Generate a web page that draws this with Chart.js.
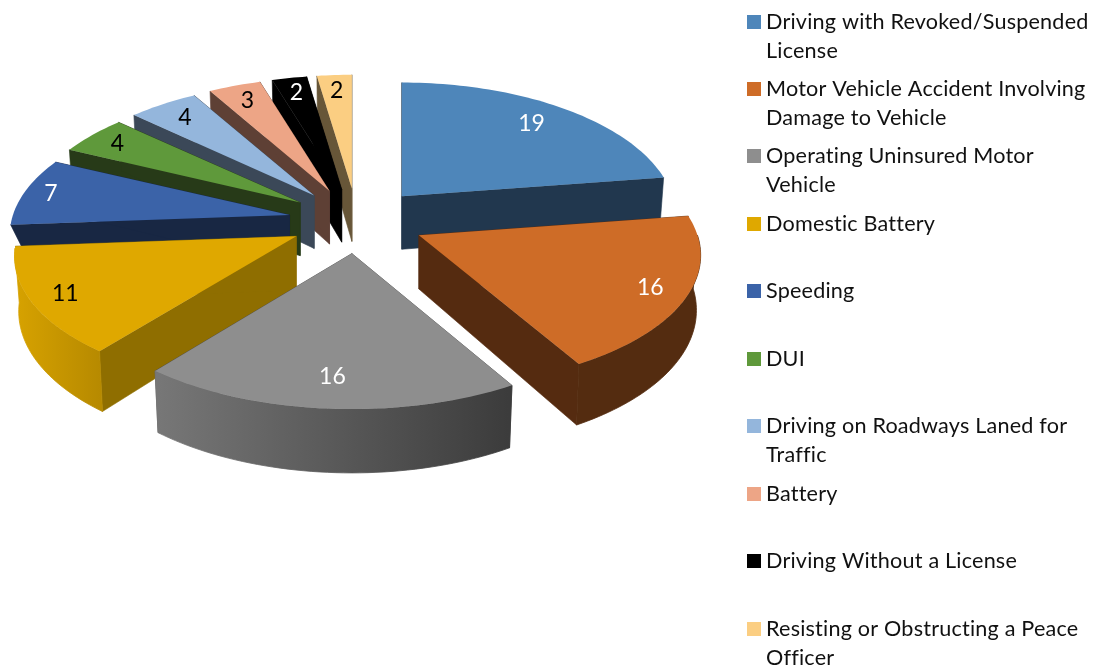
<!DOCTYPE html>
<html><head><meta charset="utf-8">
<style>html,body{margin:0;padding:0;background:#fff}canvas{display:block}</style>
<script src="https://cdn.jsdelivr.net/npm/chart.js@4/dist/chart.umd.min.js"></script>
</head><body>
<canvas id="c" width="1094" height="668" style="width:1094px;height:668px"></canvas>
<script>
const categories = ["Driving with Revoked/Suspended License","Motor Vehicle Accident Involving Damage to Vehicle","Operating Uninsured Motor Vehicle","Domestic Battery","Speeding","DUI","Driving on Roadways Laned for Traffic","Battery","Driving Without a License","Resisting or Obstructing a Peace Officer"];
const values = [19,16,16,11,7,4,4,3,2,2];
const topColors = ["#4E86BA","#CE6C27","#8E8E8E","#DFA800","#3B63A8","#5F993B","#94B6DC","#EDA586","#000000","#FBCE82"];
const wallColors = ["#21374E","#552B10","#4A4A4A","#8F6E00","#182743","#273A18","#3B4858","#5E4035","#000000","#675638"];
const labelColors = ["#fff","#fff","#fff","#000","#fff","#000","#000","#000","#fff","#000"];
const labelRadii = [.8,.87,.82,.88,.9,.87,.84,.85,.85,.85];

const FONT = 'Lato, Carlito, sans-serif';
const xScale = 1.425, yScale = .66, persp = .15, perspY = .135, depth = 53, bottomIn = .985, explodeX = .945, explodeY = .97;

function rgb(hex){const n=parseInt(hex.slice(1),16);return [n>>16,(n>>8)&255,n&255];}
function shade(hex,k){const c=rgb(hex);return `rgb(${c.map(v=>Math.round(v*k)).join(',')})`;}

const pie3d = {
  id:'pie3d',
  beforeDatasetDraw(chart,args){
    const ctx = chart.ctx, meta = args.meta;
    const geo = meta.data.map((el,i)=>{
      const p = el.getProps(['x','y','startAngle','endAngle','outerRadius'],true);
      const a0 = p.startAngle+Math.PI/2, a1 = p.endAngle+Math.PI/2, mid=(a0+a1)/2;
      const R = p.outerRadius, frac = el.options.offset/R;
      const A = R*xScale, B = R*yScale;
      const ax = p.x+frac*A*explodeX*Math.sin(mid), ay = p.y-frac*B*explodeY*Math.cos(mid);
      const wOff = -frac*Math.cos(mid);
      const pt = (th,u,low)=>{
        const w = -Math.cos(th)*u;
        const fx = 1/(1-persp*(w+Math.min(0,wOff))), fy = 1/(1-perspY*(w+Math.max(0,wOff)));
        const X = A*Math.sin(th)*u*fx, Y = B*w*fy;
        return low ? [ax+X*bottomIn, ay+Y+depth*fy] : [ax+X, ay+Y];
      };
      return {i,a0,a1,mid,pt,ax,ay};
    });
    const order = geo.slice().sort((s,t)=>(-Math.cos(s.mid))-(-Math.cos(t.mid)));
    const stops = [[12,.97],[100,.82],[157,.84],[508,.42],[700,.41]];
    for(const g of order){
      const {i,a0,a1,pt} = g;
      const wall = wallColors[i];
      // radial walls
      for(const th of [a0,a1]){
        const lowU = Math.abs(Math.cos(th))<.1 ? .92 : 1;
        const o=pt(th,1), ol=pt(th,lowU,true), c=pt(th,0), cl=pt(th,0,true);
        ctx.fillStyle=wall; ctx.strokeStyle=wall; ctx.lineWidth=.6;
        ctx.beginPath(); ctx.moveTo(...c); ctx.lineTo(...o); ctx.lineTo(...ol); ctx.lineTo(...cl); ctx.closePath(); ctx.fill(); ctx.stroke();
      }
      // outer wall: only the part of the rim that faces the viewer
      const n=Math.max(8,Math.ceil((a1-a0)*40));
      const f0=Math.max(a0,Math.PI/2), f1=Math.min(a1,Math.PI*1.5-.09);
      if(f1>f0){
        ctx.beginPath();
        for(let k=0;k<=n;k++){const p=pt(f0+(f1-f0)*k/n,1); k?ctx.lineTo(...p):ctx.moveTo(...p);}
        for(let k=n;k>=0;k--){const p=pt(f0+(f1-f0)*k/n,1,true); ctx.lineTo(...p);}
        ctx.closePath();
        const gr=ctx.createLinearGradient(12,0,700,0);
        for(const [x,s] of stops) gr.addColorStop((x-12)/688, shade(topColors[i], i===1?.41:s));
        ctx.fillStyle=gr; ctx.strokeStyle=gr; ctx.lineWidth=.8; ctx.fill(); ctx.stroke();
      }
      // top
      ctx.beginPath(); ctx.moveTo(...pt(a0,0));
      for(let k=0;k<=n;k++) ctx.lineTo(...pt(a0+(a1-a0)*k/n,1));
      ctx.closePath();
      ctx.fillStyle=topColors[i]; ctx.fill();
    }
    // data labels
    ctx.font=`23px ${FONT}`; ctx.textAlign='center'; ctx.textBaseline='middle';
    for(const g of geo){
      const p=g.pt(g.mid,labelRadii[g.i]);
      ctx.fillStyle=labelColors[g.i];
      ctx.fillText(String(values[g.i]),p[0],p[1]);
    }
    return false;
  },
  afterDraw(chart){
    const ctx=chart.ctx, sx=747, tx=766, y0=21.5, pitch=67.45, lh=29, maxW=332;
    ctx.save();
    ctx.font=`21.6px ${FONT}`; ctx.letterSpacing='0.2px'; ctx.textAlign='left'; ctx.textBaseline='alphabetic';
    categories.forEach((label,i)=>{
      const y=y0+pitch*i;
      ctx.fillStyle=topColors[i]; ctx.fillRect(sx,Math.round(y-7),14,14);
      ctx.fillStyle='#111';
      let line='',ly=y+7;
      for(const word of label.split(' ')){
        const t=line?line+' '+word:word;
        if(ctx.measureText(t).width>maxW){ctx.fillText(line,tx,ly);ly+=lh;line=word;} else line=t;
      }
      ctx.fillText(line,tx,ly);
    });
    ctx.restore();
  }
};

new Chart(document.getElementById('c'),{
  type:'pie',
  data:{labels:categories,datasets:[{data:values,backgroundColor:topColors,borderWidth:0,offset:51,hoverOffset:0}]},
  options:{responsive:false,animation:false,devicePixelRatio:1,
    layout:{padding:{left:0,top:0,right:380,bottom:226}},
    plugins:{legend:{display:false},tooltip:{enabled:false}}},
  plugins:[pie3d]
});
</script>
</body></html>
